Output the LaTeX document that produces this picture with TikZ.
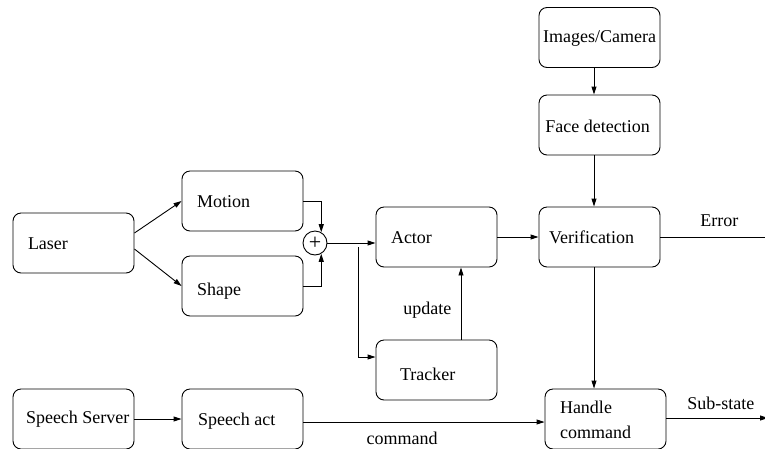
\documentclass[tikz,border=0pt]{standalone}
\usepackage{fontspec}
\setmainfont{Liberation Serif}
\usetikzlibrary{arrows.meta,calc}

\begin{document}
\begin{tikzpicture}[x=1pt,y=-1pt,
  every path/.style={line width=0.9pt},
  box/.style={draw, rounded corners=8pt, minimum width=121pt, minimum height=60pt, inner sep=0pt},
  txt/.style={inner sep=0pt, anchor=west, font=\fontsize{18}{22}\selectfont, text height=12pt, text depth=4pt, yshift=-2pt},
  ctxt/.style={txt, anchor=center},
  arr/.style={-{Triangle[length=8pt,width=5pt]}},
  sum/.style={draw, circle, minimum size=24pt, inner sep=0pt, font=\fontsize{22}{22}\selectfont}]

\useasboundingbox (0,0) rectangle (765,448);

% blocks
\node[box] (laser)   at (73.5,243) {};
\node[box] (motion)  at (242.5,201) {};
\node[box] (shape)   at (242.5,286) {};
\node[box] (actor)   at (436.5,237) {};
\node[box] (tracker) at (436.5,370) {};
\node[box] (images)  at (599.5,37.5) {};
\node[box] (face)    at (599.5,125) {};
\node[box] (verif)   at (599.5,237) {};
\node[box] (speechsrv) at (73.5,419) {};
\node[box] (speechact) at (242.5,419) {};
\node[box] (handle)  at (605.5,419) {};
\node[sum] (plus)    at (315,243) {+};

% block texts
\node[txt] at ($(laser.west)+(15,0)$) {Laser};
\node[txt] at ($(motion.west)+(15,0)$) {Motion};
\node[txt] at ($(shape.west)+(15,3)$) {Shape};
\node[txt] at ($(actor.west)+(15,0)$) {Actor};
\node[txt] at ($(tracker.west)+(24,4)$) {Tracker};
\node[ctxt] at ($(images.center)+(0,-1.5)$) {Images/Camera};
\node[ctxt] at ($(face.center)+(-2,1)$) {Face detection};
\node[txt] at ($(verif.west)+(10,0)$) {Verification};
\node[txt] at ($(speechsrv.west)+(13,-2)$) {Speech Server};
\node[txt] at ($(speechact.west)+(16,0)$) {Speech act};
\node[txt, font=\fontsize{18}{25}\selectfont, align=left, text height=, text depth=, yshift=2pt] at ($(handle.west)+(15,0.5)$) {Handle\\command};

% connectors
\draw[arr] ($(laser.east)+(0,-10)$) -- (motion.west);
\draw[arr] ($(laser.east)+(0,6)$) -- (shape.west);
\draw[arr] (motion.east) -| (plus.60);
\draw[arr] (shape.east) -| (plus.-60);
\draw[arr] (plus.east) -- (plus.east -| actor.west);
\coordinate (br) at (358,247);
\draw[arr] (br) |- ($(tracker.west)+(0,-13)$);
\draw[arr] ($(tracker.north)+(24.5,0)$) -- ($(actor.south)+(24.5,0)$);
\node[txt] (updlbl) at (403,308) {update};
\draw[arr] (actor.east) -- (verif.west);
\draw[arr] ($(images.south)+(-5.5,0)$) -- ($(face.north)+(-5.5,0)$);
\draw[arr] ($(face.south)+(-5.5,0)$) -- ($(verif.north)+(-5.5,0)$);
\draw[arr] ($(verif.south)+(-5.5,0)$) -- ($(handle.north)+(-11.5,0)$);
\coordinate (errend) at (766,237);
\draw (verif.east) -- (errend);
\node[txt] (errlbl) at (700,220) {Error};
\draw[arr] (speechsrv.east) -- (speechact.west);
\draw[arr] ($(speechact.east)+(0,3)$) -- ($(handle.west)+(0,3)$);
\node[ctxt] (cmdlbl) at (402,438) {command};
\coordinate (subend) at (768,418);
\draw[arr] ($(handle.east)+(0,-1)$) -- (subend);
\node[txt] (sublbl) at (687,403) {Sub-state};

\end{tikzpicture}
\end{document}
